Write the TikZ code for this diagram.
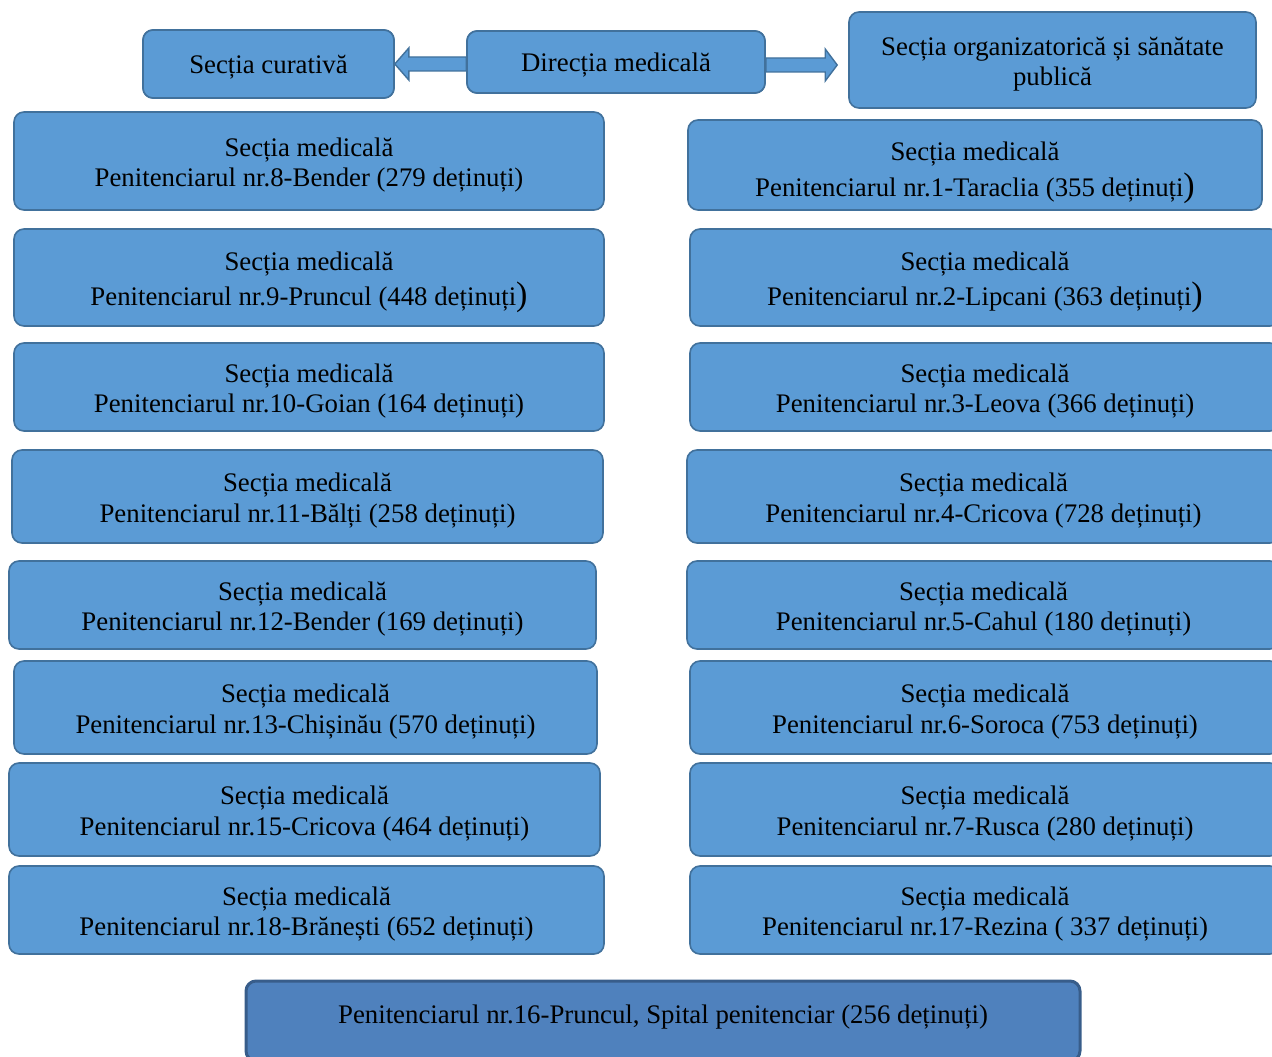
\documentclass[tikz,border=0pt]{standalone}
\usepackage{fontspec}
\setmainfont{Liberation Serif}
\usetikzlibrary{calc}
\definecolor{boxfill}{HTML}{5B9BD5}
\definecolor{boxline}{HTML}{41719C}
\definecolor{hospfill}{HTML}{4F81BD}
\definecolor{hospline}{HTML}{385D8A}
\newcommand{\bigpar}{{\fontsize{34}{30}\selectfont)}}
\newcommand{\twol}[3][0pt]{\raisebox{-4.5pt}[\height][\depth]{\begin{tabular}{@{}c@{}}#2\\[#1]#3\end{tabular}}}
\newcommand{\onel}[1]{\raisebox{-3.5pt}[\height][\depth]{#1}}
\begin{document}
\begin{tikzpicture}[x=1pt,y=-1pt,
  box/.style={draw=boxline, fill=boxfill, line width=1.6pt, rounded corners=10pt,
    align=center, inner sep=0pt, font=\fontsize{26.8}{30.5}\selectfont},
  hosp/.style={draw=hospline, fill=hospfill, line width=3pt, rounded corners=10pt,
    align=center, inner sep=0pt, font=\fontsize{26.8}{30.5}\selectfont},
  blockarrow/.style={draw=boxline, fill=boxfill, line width=1.4pt, line join=miter}]
\useasboundingbox (0,0) rectangle (1272,1057);

% top row
\node[box, minimum width=251pt, minimum height=68pt] (cur) at (268.5,64) {\onel{Secția curativă}};
\node[box, minimum width=298pt, minimum height=62pt] (dir) at (616,62) {\onel{Direcția medicală}};
\node[box, minimum width=407pt, minimum height=96pt] (org) at (1052.5,60) {\twol{Secția organizatorică și sănătate}{publică}};

% block arrows
\draw[blockarrow] (cur.east) -- ++(14,-16) -- ++(0,9)
  -- ($(dir.west |- cur.east)+(0,-7)$) -- ++(0,14)
  -- ($(cur.east)+(14,7)$) -- ++(0,9) -- cycle;
\draw[blockarrow] ($(org.west |- dir.east)+(-11,3)$) -- ++(-12,-16) -- ++(0,9)
  -- ($(dir.east)+(0,-4)$) -- ++(0,14)
  -- ($(org.west |- dir.east)+(-23,10)$) -- ++(0,9) -- cycle;
% redraw box borders over arrow ends
\node[box, minimum width=251pt, minimum height=68pt] at (cur) {\onel{Secția curativă}};
\node[box, minimum width=298pt, minimum height=62pt] at (dir) {\onel{Direcția medicală}};

% left column
\node[box, minimum width=590pt, minimum height=98pt] (l1) at (309,161) {\twol{Secția medicală}{Penitenciarul nr.8-Bender (279 deținuți)}};
\node[box, minimum width=590pt, minimum height=97pt] (l2) at (309,277.5) {\twol[3pt]{Secția medicală}{Penitenciarul nr.9-Pruncul (448 deținuți\bigpar}};
\node[box, minimum width=590pt, minimum height=88pt] (l3) at (309,387) {\twol{Secția medicală}{Penitenciarul nr.10-Goian (164 deținuți)}};
\node[box, minimum width=591pt, minimum height=93pt] (l4) at (307.5,496.5) {\twol{Secția medicală}{Penitenciarul nr.11-Bălți (258 deținuți)}};
\node[box, minimum width=587pt, minimum height=88pt] (l5) at (302.5,605) {\twol{Secția medicală}{Penitenciarul nr.12-Bender (169 deținuți)}};
\node[box, minimum width=583pt, minimum height=93pt] (l6) at (305.5,707.5) {\twol{Secția medicală}{Penitenciarul nr.13-Chișinău (570 deținuți)}};
\node[box, minimum width=591pt, minimum height=93pt] (l7) at (304.5,809.5) {\twol{Secția medicală}{Penitenciarul nr.15-Cricova (464 deținuți)}};
\node[box, minimum width=595pt, minimum height=88pt] (l8) at (306.5,910) {\twol{Secția medicală}{Penitenciarul nr.18-Brănești (652 deținuți)}};

% right column
\node[box, minimum width=574pt, minimum height=90pt] (r1) at (975,165) {\raisebox{-3pt}[\height][\depth]{\twol[4pt]{Secția medicală}{Penitenciarul nr.1-Taraclia (355 deținuți\bigpar}}};
\node[box, minimum width=590pt, minimum height=97pt] (r2) at (985,277.5) {\twol[3pt]{Secția medicală}{Penitenciarul nr.2-Lipcani (363 deținuți\bigpar}};
\node[box, minimum width=590pt, minimum height=88pt] (r3) at (985,387) {\twol{Secția medicală}{Penitenciarul nr.3-Leova (366 deținuți)}};
\node[box, minimum width=593pt, minimum height=93pt] (r4) at (983.5,496.5) {\twol{Secția medicală}{Penitenciarul nr.4-Cricova (728 deținuți)}};
\node[box, minimum width=593pt, minimum height=88pt] (r5) at (983.5,605) {\twol{Secția medicală}{Penitenciarul nr.5-Cahul (180 deținuți)}};
\node[box, minimum width=590pt, minimum height=93pt] (r6) at (985,707.5) {\twol{Secția medicală}{Penitenciarul nr.6-Soroca (753 deținuți)}};
\node[box, minimum width=590pt, minimum height=93pt] (r7) at (985,809.5) {\twol{Secția medicală}{Penitenciarul nr.7-Rusca (280 deținuți)}};
\node[box, minimum width=590pt, minimum height=88pt] (r8) at (985,910) {\twol{Secția medicală}{Penitenciarul nr.17-Rezina ( 337 deținuți)}};

% bottom hospital
\node[hosp, minimum width=834pt, minimum height=80pt] (h) at (663,1021) {};
\node[font=\fontsize{26.8}{30.5}\selectfont, inner sep=0pt] (ht) at (663,1017) {Penitenciarul nr.16-Pruncul, Spital penitenciar (256 deținuți)};
\end{tikzpicture}
\end{document}
